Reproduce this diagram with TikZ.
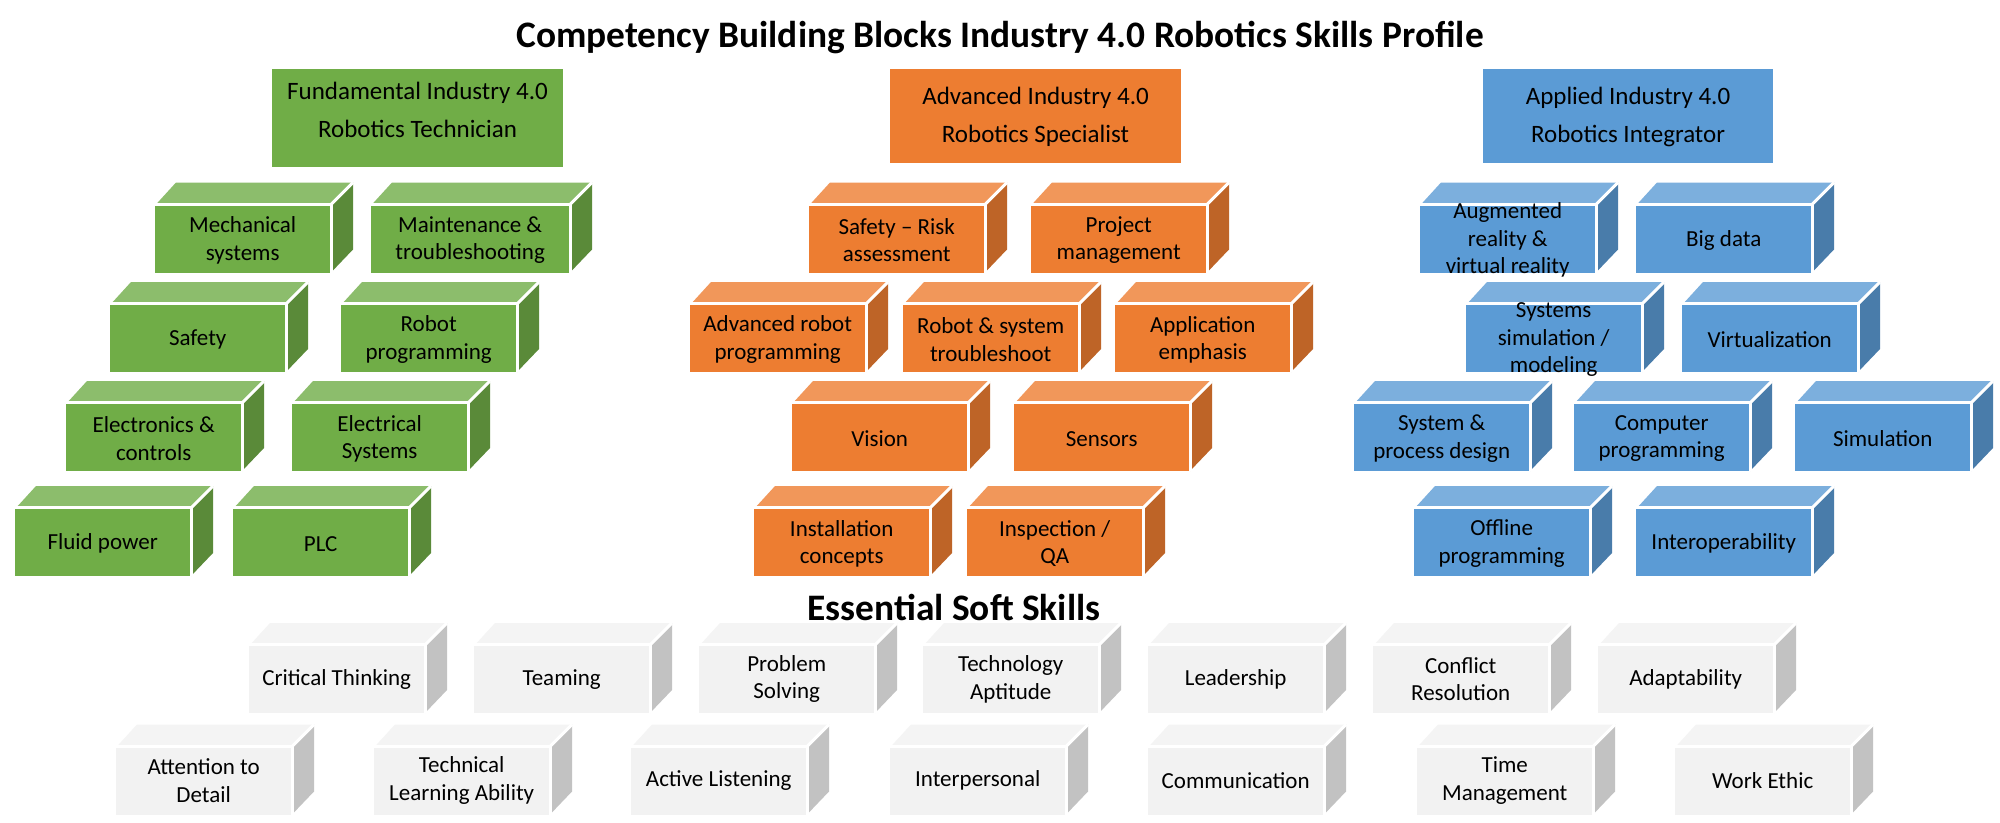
\documentclass[tikz,border=0pt]{standalone}
\usepackage{fontspec}
\setmainfont{Carlito}
\definecolor{gF}{HTML}{70AD47}\definecolor{gT}{HTML}{8CBD6C}\definecolor{gS}{HTML}{5A8A39}
\definecolor{oF}{HTML}{ED7D31}\definecolor{oT}{HTML}{F1975A}\definecolor{oS}{HTML}{BE6427}
\definecolor{bF}{HTML}{5B9BD5}\definecolor{bT}{HTML}{7CAFDD}\definecolor{bS}{HTML}{497CAA}
\definecolor{sF}{HTML}{F2F2F2}\definecolor{sT}{HTML}{F4F4F4}\definecolor{sS}{HTML}{C2C2C2}
\tikzset{
  blockface/.style={minimum height=67pt,inner sep=0pt,anchor=north west},
  blocktext/.style={inner sep=0pt,align=center,text=black,font=\fontsize{23}{27.5}\selectfont},
  headerbox/.style={inner sep=0pt,anchor=north west},
  headertext/.style={inner sep=0pt,align=center,text=black,font=\fontsize{25}{38}\selectfont},
  heading/.style={inner sep=0pt,text=black,font=\fontsize{37.4}{42}\selectfont\bfseries},
  edgeline/.style={draw=white,line width=3pt}
}
\newcommand{\tshift}{-1pt}
% [front width], name, x, y, colour prefix, text
\newcommand{\cblock}[6][175]{%
  \begin{scope}[shift={(#3,#4)}]
    \pgfmathsetmacro{\wa}{#1+1}%
    \pgfmathsetmacro{\wb}{#1+1.5}%
    \pgfmathsetmacro{\wc}{#1+23}%
    \fill[#5T] (0,0) -- (21,-23) -- (\wc,-23) -- (\wa,0) -- cycle;
    \fill[#5S] (\wa,0) -- (\wc,-23) -- (\wc,44) -- (\wa,67) -- cycle;
    \draw[edgeline] (\wb,67) -- (\wb,-1.5) -- (0,-1.5);
    \draw[edgeline] (\wb,-1.5) -- (\wc,-23);
    \node[blockface,fill=#5F,minimum width=#1pt] (#2) at (0,0) {};
    \node[blocktext] (#2t) at ([yshift=\tshift]#2.center) {#6};
  \end{scope}%
}
\begin{document}
\begin{tikzpicture}[x=1pt,y=-1pt]
\useasboundingbox (0,0) rectangle (2000,822);
\fill[white] (0,0) rectangle (2000,822);
\node[heading] (title) at (1000,37.5) {Competency Building Blocks Industry 4.0 Robotics Skills Profile};
\node[heading] (soft) at (954,607.5) {Essential Soft Skills};
% headers
\node[headerbox,fill=gF,minimum width=291pt,minimum height=98pt] (hg) at (272,69) {};
\node[headertext] (hgt) at (417.5,109.5) {Fundamental Industry 4.0\\Robotics Technician};
\node[headerbox,fill=oF,minimum width=291pt,minimum height=94pt] (ho) at (890,69) {};
\node[headertext] (hot) at (1035.5,116.5) {Advanced Industry 4.0\\Robotics Specialist};
\node[headerbox,fill=bF,minimum width=290pt,minimum height=94pt] (hb) at (1483,69) {};
\node[headertext] (hbt) at (1628,116.5) {Applied Industry 4.0\\Robotics Integrator};
% green
\cblock{g1}{155}{205.5}{g}{Mechanical\\systems}
\cblock[198]{g2}{371}{205.5}{g}{Maintenance \&\\troubleshooting}
\cblock{g3}{110}{305}{g}{Safety}
\cblock{g4}{341}{305}{g}{Robot\\programming}
\cblock{g5}{66}{404}{g}{Electronics \&\\controls}
\cblock{g6}{292}{404}{g}{Electrical\\Systems}
\cblock{g7}{15}{509}{g}{Fluid power}
\cblock{g8}{233}{509}{g}{PLC}
% orange
\cblock{o1}{809}{205.5}{o}{Safety -- Risk\\assessment}
\cblock{o2}{1031}{205.5}{o}{Project\\management}
\cblock{o3}{690}{305}{o}{Advanced robot\\programming}
\cblock{o4}{903}{305}{o}{Robot \& system\\troubleshoot}
\cblock{o5}{1115}{305}{o}{Application\\emphasis}
\cblock{o6}{792}{404}{o}{Vision}
\cblock{o7}{1014}{404}{o}{Sensors}
\cblock{o8}{754}{509}{o}{Installation\\concepts}
\cblock{o9}{967}{509}{o}{Inspection /\\QA}
% blue
\cblock{b1}{1420}{205.5}{b}{Augmented\\reality \&\\virtual reality}
\cblock{b2}{1636}{205.5}{b}{Big data}
\cblock{b3}{1466}{305}{b}{Systems\\simulation /\\modeling}
\cblock{b4}{1682}{305}{b}{Virtualization}
\cblock{b5}{1354}{404}{b}{System \&\\process design}
\cblock{b6}{1574}{404}{b}{Computer\\programming}
\cblock{b7}{1795}{404}{b}{Simulation}
\cblock{b8}{1414}{509}{b}{Offline\\programming}
\cblock{b9}{1636}{509}{b}{Interoperability}
\renewcommand{\tshift}{0.5pt}
% soft row 1
\cblock{s1}{249}{646}{s}{Critical Thinking}
\cblock{s2}{474}{646}{s}{Teaming}
\cblock{s3}{699}{646}{s}{Problem\\Solving}
\cblock{s4}{923}{646}{s}{Technology\\Aptitude}
\cblock{s5}{1148}{646}{s}{Leadership}
\cblock{s6}{1373}{646}{s}{Conflict\\Resolution}
\cblock{s7}{1598}{646}{s}{Adaptability}
% soft row 2
\cblock{s8}{116}{747.5}{s}{Attention to\\Detail}
\cblock{s9}{374}{747.5}{s}{Technical\\Learning Ability}
\cblock{s10}{631}{747.5}{s}{Active Listening}
\cblock{s11}{890}{747.5}{s}{Interpersonal}
\cblock{s12}{1148}{747.5}{s}{Communication}
\cblock{s13}{1417}{747.5}{s}{Time\\Management}
\cblock{s14}{1675}{747.5}{s}{Work Ethic}
\end{tikzpicture}
\end{document}
